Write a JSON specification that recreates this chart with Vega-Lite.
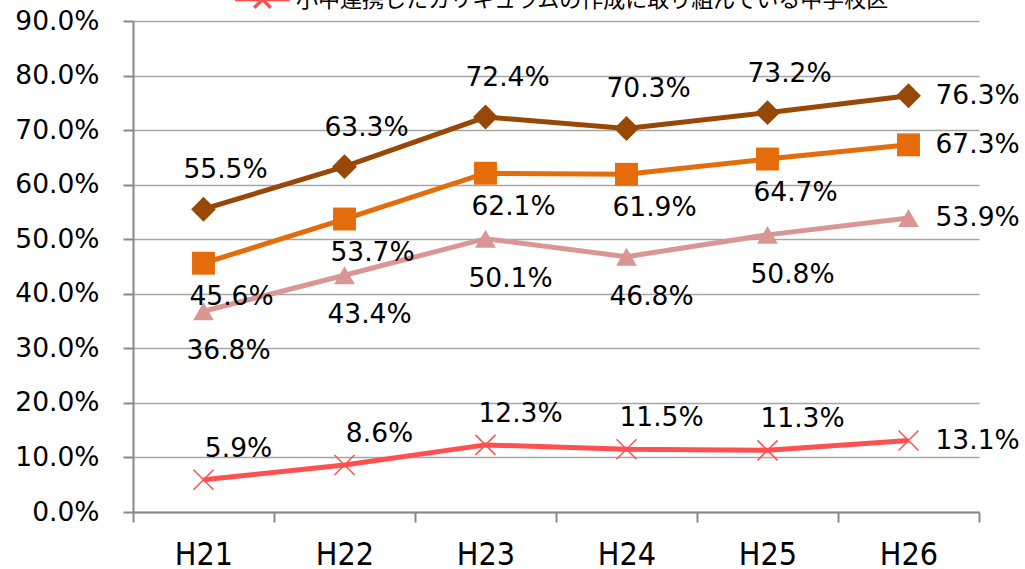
{
  "$schema": "https://vega.github.io/schema/vega-lite/v6.json",
  "autosize": {"type": "none"},
  "padding": {"left": 133, "top": 21, "right": 46, "bottom": 57},
  "width": 846,
  "height": 491,
  "background": "white",
  "config": {
    "view": {"stroke": null},
    "axis": {"domainColor": "#888888", "domainWidth": 2, "tickColor": "#888888", "tickWidth": 2, "labelColor": "#000000", "title": null}
  },
  "data": {
    "values": [
      {"year": "H21", "series": "系列1", "value": 0.555},
      {"year": "H22", "series": "系列1", "value": 0.633},
      {"year": "H23", "series": "系列1", "value": 0.724},
      {"year": "H24", "series": "系列1", "value": 0.703},
      {"year": "H25", "series": "系列1", "value": 0.732},
      {"year": "H26", "series": "系列1", "value": 0.763},
      {"year": "H21", "series": "系列2", "value": 0.456},
      {"year": "H22", "series": "系列2", "value": 0.537},
      {"year": "H23", "series": "系列2", "value": 0.621},
      {"year": "H24", "series": "系列2", "value": 0.619},
      {"year": "H25", "series": "系列2", "value": 0.647},
      {"year": "H26", "series": "系列2", "value": 0.673},
      {"year": "H21", "series": "系列3", "value": 0.368},
      {"year": "H22", "series": "系列3", "value": 0.434},
      {"year": "H23", "series": "系列3", "value": 0.501},
      {"year": "H24", "series": "系列3", "value": 0.468},
      {"year": "H25", "series": "系列3", "value": 0.508},
      {"year": "H26", "series": "系列3", "value": 0.539},
      {"year": "H21", "series": "小中連携したカリキュラムの作成に取り組んでいる中学校区", "value": 0.059},
      {"year": "H22", "series": "小中連携したカリキュラムの作成に取り組んでいる中学校区", "value": 0.086},
      {"year": "H23", "series": "小中連携したカリキュラムの作成に取り組んでいる中学校区", "value": 0.123},
      {"year": "H24", "series": "小中連携したカリキュラムの作成に取り組んでいる中学校区", "value": 0.115},
      {"year": "H25", "series": "小中連携したカリキュラムの作成に取り組んでいる中学校区", "value": 0.113},
      {"year": "H26", "series": "小中連携したカリキュラムの作成に取り組んでいる中学校区", "value": 0.131}
    ]
  },
  "encoding": {
    "x": {
      "field": "year", "type": "ordinal",
      "scale": {"type": "band", "paddingInner": 0, "paddingOuter": 0},
      "axis": {"labelAngle": 0, "tickBand": "extent", "tickSize": 10, "labelPadding": 17, "labelFontSize": 32, "labelFont": "Liberation Sans Narrow, DejaVu Sans Condensed, sans-serif", "grid": false}
    },
    "y": {
      "field": "value", "type": "quantitative",
      "scale": {"domain": [0, 0.9], "nice": false},
      "axis": {"values": [0, 0.1, 0.2, 0.3, 0.4, 0.5, 0.6, 0.7, 0.8, 0.9], "format": ".1%", "grid": true, "gridColor": "#A6A6A6", "gridWidth": 1.5, "tickSize": 10, "labelPadding": 24, "labelFontSize": 26.5, "labelFont": "DejaVu Sans"}
    }
  },
  "layer": [
    {
      "mark": {"type": "line", "strokeWidth": 5},
      "encoding": {
        "color": {
          "field": "series", "type": "nominal",
          "scale": {"domain": ["系列1", "系列2", "系列3", "小中連携したカリキュラムの作成に取り組んでいる中学校区"], "range": ["#974806", "#E46C0A", "#D99694", "#FF5050"]},
          "legend": {
            "values": ["小中連携したカリキュラムの作成に取り組んでいる中学校区"],
            "orient": "none", "legendX": 100, "legendY": -51, "title": null, "padding": 0,
            "symbolType": "M-1,0L1,0M-0.3,-0.3L0.3,0.3M-0.3,0.3L0.3,-0.3",
            "symbolSize": 3025, "symbolStrokeWidth": 3.5,
            "labelFont": "Noto Sans CJK JP", "labelFontSize": 22, "labelColor": "#000000", "labelOffset": 4, "labelLimit": 1000
          }
        }
      }
    },
    {
      "transform": [{"filter": "datum.series !== '小中連携したカリキュラムの作成に取り組んでいる中学校区'"}],
      "mark": {"type": "point", "filled": true, "opacity": 1},
      "encoding": {
        "color": {"field": "series", "type": "nominal", "legend": null},
        "shape": {"field": "series", "type": "nominal", "scale": {"domain": ["系列1", "系列2", "系列3"], "range": ["diamond", "square", "triangle-up"]}, "legend": null},
        "size": {"field": "series", "type": "nominal", "scale": {"domain": ["系列1", "系列2", "系列3"], "range": [620, 430, 500]}, "legend": null}
      }
    },
    {
      "transform": [{"filter": "datum.series === '小中連携したカリキュラムの作成に取り組んでいる中学校区'"}],
      "mark": {"type": "point", "filled": false, "shape": "M-1,-1L1,1M-1,1L1,-1", "size": 400, "strokeWidth": 1.5, "color": "#FF5050", "opacity": 1}
    },
    {
      "transform": [{"filter": "datum.year === 'H26'"}],
      "mark": {"type": "text", "align": "left", "baseline": "middle", "dx": 27, "fontSize": 26.5, "font": "DejaVu Sans", "color": "#000000"},
      "encoding": {"text": {"field": "value", "type": "quantitative", "format": ".1%"}}
    },
    {
      "transform": [{"filter": "datum.year !== 'H26' && datum.series === '系列1'"}],
      "mark": {"type": "text", "align": "center", "baseline": "middle", "dx": 22, "dy": -39, "fontSize": 26.5, "font": "DejaVu Sans", "color": "#000000"},
      "encoding": {"text": {"field": "value", "type": "quantitative", "format": ".1%"}}
    },
    {
      "transform": [{"filter": "datum.year !== 'H26' && datum.series === '系列2'"}],
      "mark": {"type": "text", "align": "center", "baseline": "middle", "dx": 28, "dy": 34, "fontSize": 26.5, "font": "DejaVu Sans", "color": "#000000"},
      "encoding": {"text": {"field": "value", "type": "quantitative", "format": ".1%"}}
    },
    {
      "transform": [{"filter": "datum.year !== 'H26' && datum.series === '系列3'"}],
      "mark": {"type": "text", "align": "center", "baseline": "middle", "dx": 25, "dy": 40, "fontSize": 26.5, "font": "DejaVu Sans", "color": "#000000"},
      "encoding": {"text": {"field": "value", "type": "quantitative", "format": ".1%"}}
    },
    {
      "transform": [{"filter": "datum.year !== 'H26' && datum.series === '小中連携したカリキュラムの作成に取り組んでいる中学校区'"}],
      "mark": {"type": "text", "align": "center", "baseline": "middle", "dx": 35, "dy": -31, "fontSize": 26.5, "font": "DejaVu Sans", "color": "#000000"},
      "encoding": {"text": {"field": "value", "type": "quantitative", "format": ".1%"}}
    }
  ]
}
